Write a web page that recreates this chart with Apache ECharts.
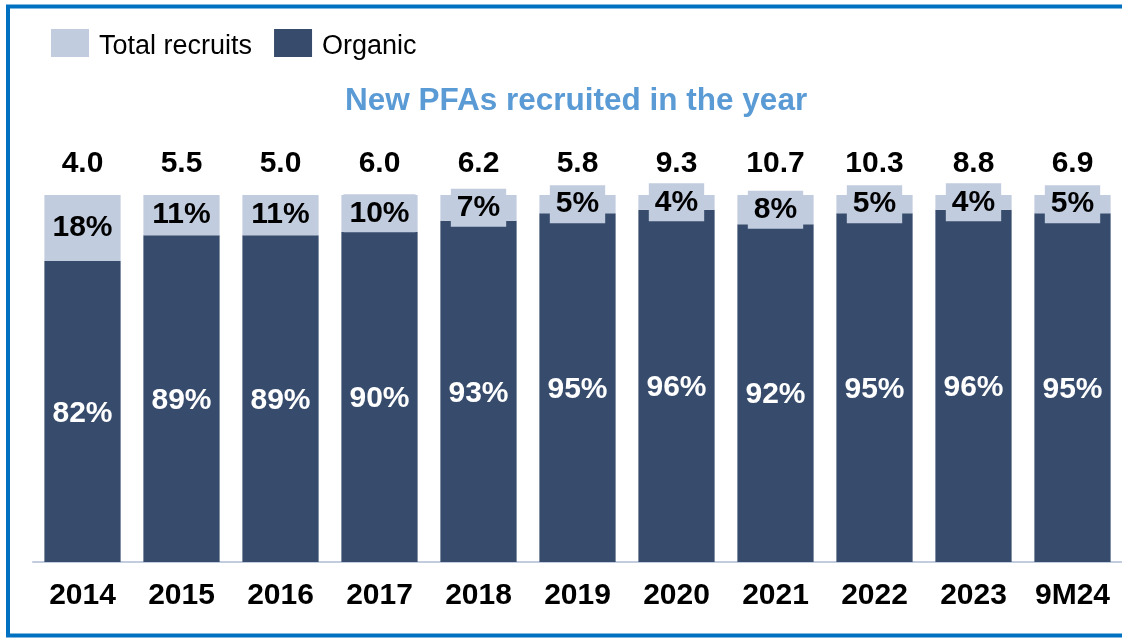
<!DOCTYPE html>
<html>
<head>
<meta charset="utf-8">
<script src="https://cdn.jsdelivr.net/npm/echarts@6/dist/echarts.min.js"></script>
<style>
html,body{margin:0;padding:0;background:#fff;}
#chart{width:1122px;height:638px;}
</style>
</head>
<body>
<div id="chart"></div>
<script>
var categories = ['2014','2015','2016','2017','2018','2019','2020','2021','2022','2023','9M24'];
var organicPct = [82, 89, 89, 90, 93, 95, 96, 92, 95, 96, 95];
var otherPct = [18, 11, 11, 10, 7, 5, 4, 8, 5, 4, 5];
var totals = ['4.0','5.5','5.0','6.0','6.2','5.8','9.3','10.7','10.3','8.8','6.9'];

var FONT = "'Liberation Sans', Arial, sans-serif";
var DARK = '#374C6C';
var LIGHT = '#C2CCDF';

var chart = echarts.init(document.getElementById('chart'));
chart.setOption({
  animation: false,
  backgroundColor: '#ffffff',
  graphic: [{
    type: 'rect',
    shape: {x: 8, y: 6.5, width: 1200, height: 629},
    style: {fill: 'none', stroke: '#0070C0', lineWidth: 4}
  }],
  title: {
    text: 'New PFAs recruited in the year',
    left: 345,
    top: 85,
    padding: 0,
    textStyle: {fontFamily: FONT, fontSize: 31.5, fontWeight: 'bold', color: '#5B9BD5'}
  },
  legend: {
    data: ['Total recruits', 'Organic'],
    left: 51,
    top: 29,
    padding: 0,
    itemWidth: 38,
    itemHeight: 28,
    itemGap: 22,
    icon: 'rect',
    formatter: function (name) { return '{t|' + name + '}'; },
    textStyle: {
      fontFamily: FONT, fontSize: 27, color: '#000', padding: [0, 0, 0, 5],
      rich: {t: {fontFamily: FONT, fontSize: 27, color: '#000', padding: [7, 0, 0, 0]}}
    }
  },
  grid: {left: 33, top: 195, width: 1090, bottom: 76, containLabel: false},
  xAxis: {
    type: 'category',
    data: categories,
    axisLine: {lineStyle: {color: LIGHT, width: 2}},
    axisTick: {show: false},
    axisLabel: {interval: 0, fontFamily: FONT, fontSize: 30, fontWeight: 'bold', color: '#000', margin: 19}
  },
  yAxis: {type: 'value', min: 0, max: 100, show: false, splitLine: {show: false}},
  series: [
    {
      name: 'Organic',
      type: 'bar',
      stack: 's',
      barCategoryGap: '23%',
      data: organicPct,
      itemStyle: {color: DARK},
      label: {
        show: true, position: 'inside', color: '#fff', offset: [0, 2],
        fontFamily: FONT, fontSize: 30, fontWeight: 'bold',
        formatter: function (p) { return p.value + '%'; }
      }
    },
    {
      name: 'Total recruits',
      type: 'bar',
      stack: 's',
      data: otherPct,
      itemStyle: {color: LIGHT},
      label: {
        show: true, position: 'inside', color: '#000',
        fontFamily: FONT, fontSize: 30, fontWeight: 'bold',
        backgroundColor: LIGHT, padding: [5, 6, 3, 6],
        formatter: function (p) { return p.value + '%'; }
      }
    },
    {
      name: 'totalLabel',
      type: 'bar',
      stack: 's',
      data: categories.map(function () { return 0; }),
      itemStyle: {color: 'transparent'},
      label: {
        show: true, position: 'top', distance: 16, color: '#000',
        fontFamily: FONT, fontSize: 30, fontWeight: 'bold',
        formatter: function (p) { return totals[p.dataIndex]; }
      }
    }
  ]
});
</script>
</body>
</html>
